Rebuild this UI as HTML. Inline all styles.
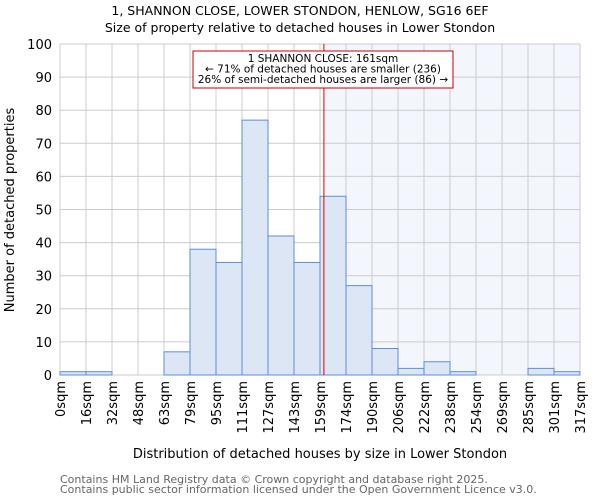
<!DOCTYPE html>
<html><head><meta charset="utf-8"><style>body{margin:0;background:#fff}svg{display:block;font-family:"DejaVu Sans","Liberation Sans",sans-serif}</style></head>
<body>
<svg id="c" width="600" height="500">
<text x="300" y="15" text-anchor="middle" font-size="12.5">1, SHANNON CLOSE, LOWER STONDON, HENLOW, SG16 6EF</text>
<text x="300" y="32" text-anchor="middle" font-size="12.5">Size of property relative to detached houses in Lower Stondon</text>
<g id="grid"></g><g id="bars"></g><g id="ticks"></g>
<text transform="translate(14,210) rotate(-90)" text-anchor="middle" font-size="13">Number of detached properties</text>
<text x="320" y="458" text-anchor="middle" font-size="13">Distribution of detached houses by size in Lower Stondon</text>
<text x="60" y="483" font-size="11" fill="#666">Contains HM Land Registry data © Crown copyright and database right 2025.</text>
<text x="60" y="493" font-size="11" fill="#666">Contains public sector information licensed under the Open Government Licence v3.0.</text>
</svg>
<script>
const tickLabels=["0sqm","16sqm","32sqm","48sqm","63sqm","79sqm","95sqm","111sqm","127sqm","143sqm","159sqm","174sqm","190sqm","206sqm","222sqm","238sqm","254sqm","269sqm","285sqm","301sqm","317sqm"];
const counts=[1,1,0,0,7,38,34,77,42,34,54,27,8,2,4,1,0,0,2,1];
const yTicks=[0,10,20,30,40,50,60,70,80,90,100];
const propertyBin=10.15;
const L=60,R=580,T=44,B=375,NS="http://www.w3.org/2000/svg";
const nb=counts.length,bw=(R-L)/nb;
const xs=i=>L+i*bw, ys=v=>B-(B-T)*v/100;
function mk(t,a,p){const e=document.createElementNS(NS,t);for(const k in a)e.setAttribute(k,a[k]);p.appendChild(e);return e;}
const g=document.getElementById('grid'),bars=document.getElementById('bars'),tk=document.getElementById('ticks');
const mx=xs(propertyBin);
let sh=mk('rect',{x:mx,y:T,width:R-mx,height:B-T,fill:'#f3f6fd'},g);


for(let i=0;i<=nb;i++){let l=mk('line',{x1:xs(i),x2:xs(i),y1:T,y2:B,stroke:'#ccc'},g);

}
yTicks.forEach(v=>{let l=mk('line',{x1:L,x2:R,y1:ys(v),y2:ys(v),stroke:'#ccc'},g);


let t=mk('text',{x:L-8,y:ys(v)+5,'text-anchor':'end','font-size':13},tk);t.textContent=v;

});
counts.forEach((v,i)=>{if(v<=0)return;let r=mk('rect',{x:xs(i),y:ys(v),width:bw,height:B-ys(v),fill:'#dce6f4',stroke:'#5b8fd6','stroke-width':1},bars);

});
tickLabels.forEach((s,i)=>{let t=mk('text',{transform:`translate(${xs(i)+5},381) rotate(-90)`,'text-anchor':'end','font-size':13},tk);t.textContent=s;

});
let ln=mk('line',{x1:mx,x2:mx,y1:T,y2:B,stroke:'#d00','stroke-width':1},bars);


let ann=mk('g',{},bars);


mk('rect',{x:193,y:51,width:260,height:37,fill:'#fff',stroke:'#c00'},ann);
[["1 SHANNON CLOSE: 161sqm",62],["← 71% of detached houses are smaller (236)",72.5],["26% of semi-detached houses are larger (86) →",83]].forEach(([s,y])=>{let t=mk('text',{x:323,y:y,'text-anchor':'middle','font-size':10.5},ann);t.textContent=s;});
</script>
</body></html>
